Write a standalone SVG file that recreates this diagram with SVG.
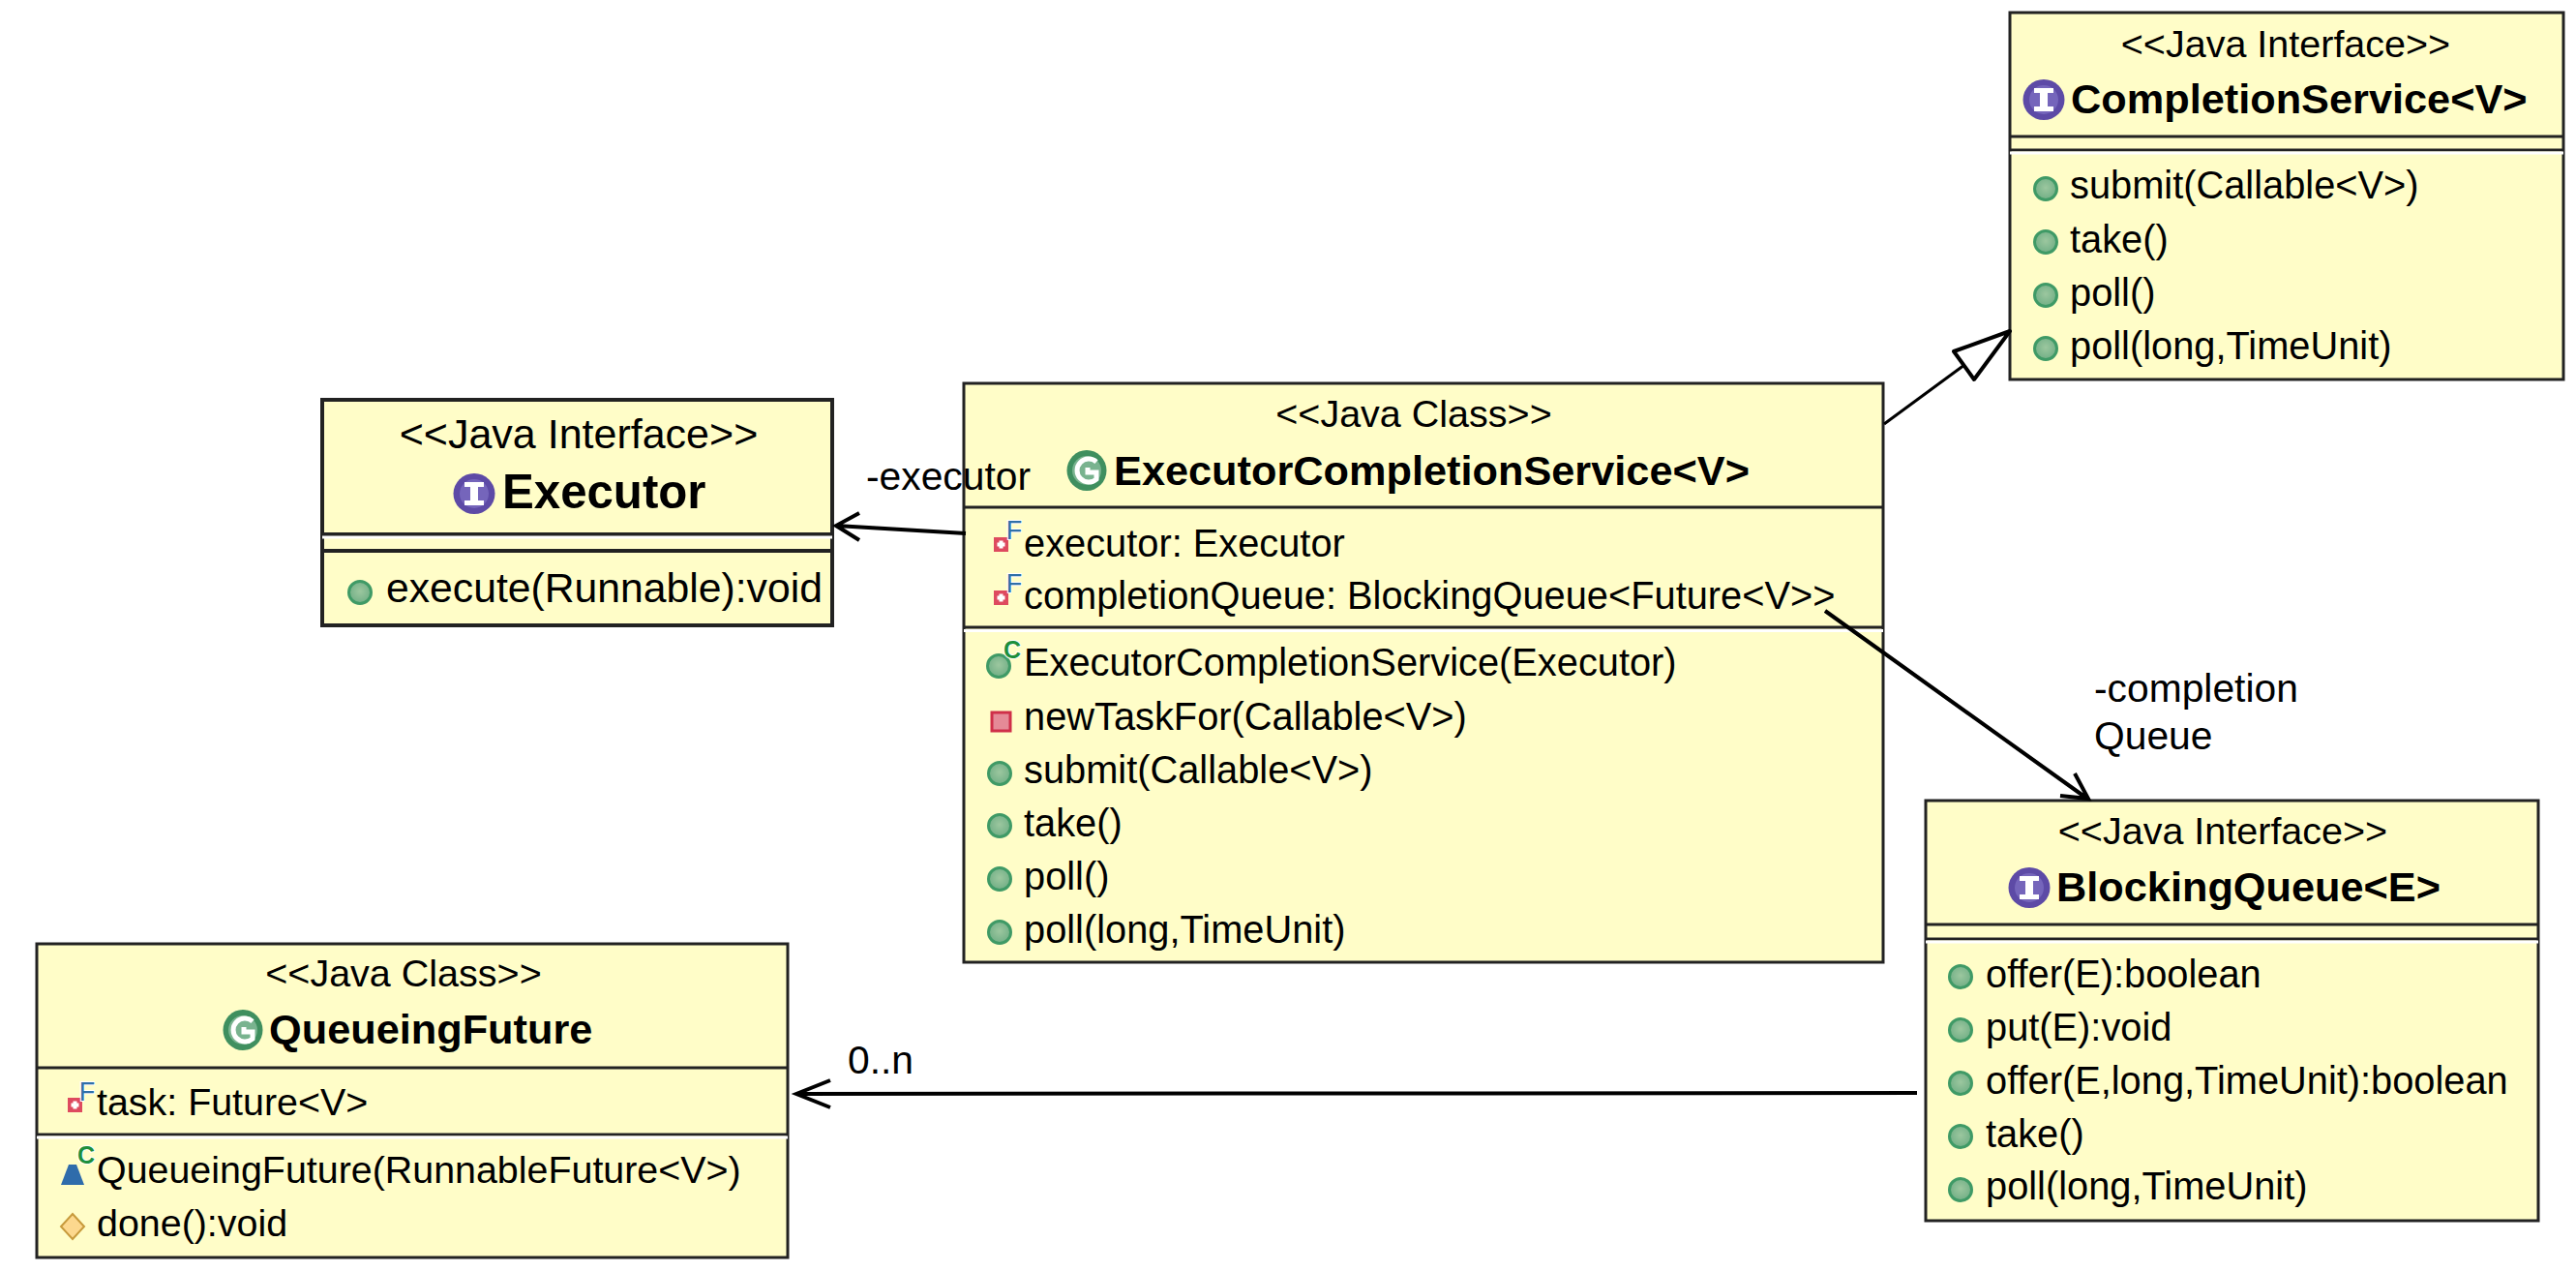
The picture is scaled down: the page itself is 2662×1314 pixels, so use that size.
<svg xmlns="http://www.w3.org/2000/svg" width="2662" height="1314" viewBox="0 0 2662 1314">
<style>
text{font-family:"Liberation Sans",Arial,sans-serif;fill:#000}
.st{font-size:39.5px;text-anchor:middle}
.nm{font-size:43.3px;font-weight:700}
.m{font-size:39.8px}
.q{font-size:39.4px}
.lb{font-size:40.8px}
.box{fill:#fffdc8;stroke:#222;stroke-width:3}
.sep{stroke:#222;stroke-width:3;fill:none}
.gap{stroke:#fff;stroke-width:3;fill:none}
.con{stroke:#000;stroke-width:4;fill:none}
.fl{font-size:27px;fill:#2f6fa8;text-anchor:middle;stroke:#fff;stroke-width:2;paint-order:stroke}
.cl{font-size:25px;font-weight:700;fill:#1d8f3c;text-anchor:middle;stroke:#fff;stroke-width:2;paint-order:stroke}
</style>
<defs>
<radialGradient id="gp" cx="50%" cy="45%" r="60%"><stop offset="0" stop-color="#9cc79f"/><stop offset="1" stop-color="#6dac83"/></radialGradient>
<g id="pub"><circle r="11.5" fill="url(#gp)" stroke="#3f9a66" stroke-width="3"/></g>
<g id="itf"><ellipse rx="21.5" ry="21" fill="#5d4aa6"/><ellipse rx="15" ry="15" fill="#7565bb"/><path d="M-10-12H10V-7H4V7H10V12H-10V7H-4V-7H-10Z" fill="#fff"/></g>
<g id="cls"><ellipse rx="20.5" ry="21" fill="#3f8f5f"/><ellipse rx="15" ry="15" fill="#79b38f"/><path d="M10-9A12 12 0 1 0 10 9V2H1V-3" fill="none" stroke="#fff" stroke-width="5"/></g>
<g id="fld"><rect x="0" y="0" width="15" height="15" fill="#de4a5f"/><path d="M5.5 3.5h4v2h2v4h-2v2h-4v-2h-2v-4h2z" fill="#fff"/></g>
</defs>

<g id="node-completion-service">
<rect class="box" x="2077" y="13" width="572" height="379"/>
<path class="sep" d="M2077 141H2649M2077 155H2649"/><path class="gap" d="M2077 158H2649"/>
<text class="st" x="2362" y="59">&lt;&lt;Java Interface&gt;&gt;</text>
<use href="#itf" x="2112" y="103"/>
<text class="nm" x="2140" y="117">CompletionService&lt;V&gt;</text>
<use href="#pub" x="2114" y="195"/><text class="m" x="2139" y="205">submit(Callable&lt;V&gt;)</text>
<use href="#pub" x="2114" y="250"/><text class="m" x="2139" y="261">take()</text>
<use href="#pub" x="2114" y="305"/><text class="m" x="2139" y="316">poll()</text>
<use href="#pub" x="2114" y="360"/><text class="m" x="2139" y="371">poll(long,TimeUnit)</text>
</g>

<g id="node-executor">
<rect class="box" x="333" y="413" width="527" height="233" style="stroke-width:4"/>
<path class="sep" style="stroke-width:4" d="M333 552H860M333 569H860"/><path class="gap" d="M333 555H860"/>
<text class="st" x="598" y="463" style="font-size:43px">&lt;&lt;Java Interface&gt;&gt;</text>
<use href="#itf" x="490" y="510"/>
<text class="nm" x="519" y="525" style="font-size:49.2px">Executor</text>
<use href="#pub" x="372" y="612"/><text class="m" x="399" y="622" style="font-size:42.7px">execute(Runnable):void</text>
</g>

<g id="node-executor-completion-service">
<rect class="box" x="996" y="396" width="950" height="598"/>
<path class="sep" d="M996 524H1946M996 648H1946"/><path class="gap" d="M996 651.5H1946"/>
<text class="st" x="1461" y="441">&lt;&lt;Java Class&gt;&gt;</text>
<use href="#cls" x="1123" y="486"/>
<text class="nm" x="1151" y="501">ExecutorCompletionService&lt;V&gt;</text>
<use href="#fld" x="1027" y="555"/><text class="fl" x="1048" y="557">F</text>
<text class="m" x="1058" y="575">executor: Executor</text>
<use href="#fld" x="1027" y="610"/><text class="fl" x="1048" y="612">F</text>
<text class="m" x="1058" y="629">completionQueue: BlockingQueue&lt;Future&lt;V&gt;&gt;</text>
<use href="#pub" x="1032" y="688"/><text class="cl" x="1046" y="680">C</text>
<text class="m" x="1058" y="698">ExecutorCompletionService(Executor)</text>
<rect x="1025" y="736" width="19" height="19" fill="#e58a97" stroke="#cf2f49" stroke-width="3"/>
<text class="m" x="1058" y="753.5">newTaskFor(Callable&lt;V&gt;)</text>
<use href="#pub" x="1033" y="799"/><text class="m" x="1058" y="808.5">submit(Callable&lt;V&gt;)</text>
<use href="#pub" x="1033" y="853"/><text class="m" x="1058" y="864">take()</text>
<use href="#pub" x="1033" y="908"/><text class="m" x="1058" y="919">poll()</text>
<use href="#pub" x="1033" y="963"/><text class="m" x="1058" y="974">poll(long,TimeUnit)</text>
</g>

<g id="node-blocking-queue">
<rect class="box" x="1990" y="827" width="633" height="434"/>
<path class="sep" d="M1990 955H2623M1990 970H2623"/><path class="gap" d="M1990 973H2623"/>
<text class="st" x="2297" y="872">&lt;&lt;Java Interface&gt;&gt;</text>
<use href="#itf" x="2097" y="917"/>
<text class="nm" x="2125" y="931">BlockingQueue&lt;E&gt;</text>
<use href="#pub" x="2026" y="1009"/><text class="m" x="2052" y="1020">offer(E):boolean</text>
<use href="#pub" x="2026" y="1064"/><text class="m" x="2052" y="1075">put(E):void</text>
<use href="#pub" x="2026" y="1119"/><text class="m" x="2052" y="1130">offer(E,long,TimeUnit):boolean</text>
<use href="#pub" x="2026" y="1174"/><text class="m" x="2052" y="1185">take()</text>
<use href="#pub" x="2026" y="1229"/><text class="m" x="2052" y="1239">poll(long,TimeUnit)</text>
</g>

<g id="node-queueing-future">
<rect class="box" x="38" y="975" width="776" height="324"/>
<path class="sep" d="M38 1103H814M38 1172H814"/><path class="gap" d="M38 1175H814"/>
<text class="st" x="417" y="1019">&lt;&lt;Java Class&gt;&gt;</text>
<use href="#cls" x="251" y="1064"/>
<text class="nm" x="278" y="1078">QueueingFuture</text>
<use href="#fld" x="70" y="1134"/><text class="fl" x="90" y="1137">F</text>
<text class="q" x="100" y="1152">task: Future&lt;V&gt;</text>
<path d="M63 1224L71 1203H79L87 1224Z" fill="#2f6cab"/><text class="cl" x="89" y="1202">C</text>
<text class="q" x="100" y="1222">QueueingFuture(RunnableFuture&lt;V&gt;)</text>
<path d="M75 1254L87 1267L75 1280L63 1267Z" fill="#fcd88e" stroke="#c79a3c" stroke-width="2"/>
<text class="q" x="100" y="1277">done():void</text>
</g>

<g id="connectors">
<path class="con" d="M998 551L864 543M888 530L864 543L888 558"/>
<path class="con" style="stroke-width:3" d="M1947 438L2030 377"/>
<path d="M2077 342L2019 363L2040 392Z" fill="#fff" stroke="#000" stroke-width="4" stroke-linejoin="round"/>
<path class="con" d="M1886 631L2157 825M2144 799L2158 825L2129 822"/>
<path class="con" d="M1981 1129L823 1130M858 1116L823 1130L858 1144"/>
</g>

<g id="labels">
<text class="lb" x="895" y="506">-executor</text>
<text class="lb" x="2164" y="725">-completion</text>
<text class="lb" x="2164" y="774">Queue</text>
<text class="lb" x="876" y="1109">0..n</text>
</g>
</svg>
